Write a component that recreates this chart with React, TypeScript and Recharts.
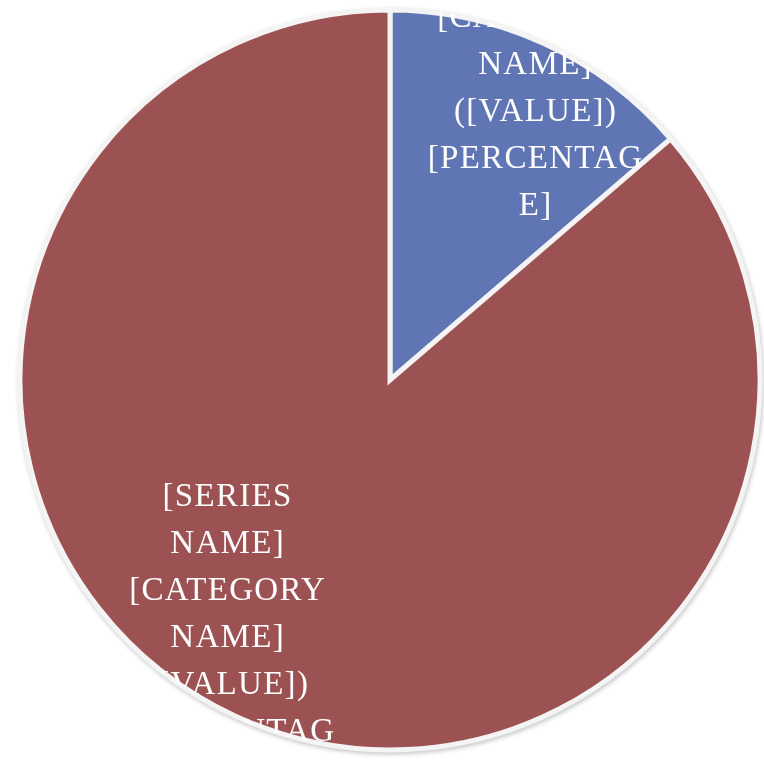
import React from "react";
import { PieChart, Pie, Cell } from "recharts";

const categories = ["1st Qtr", "2nd Qtr"];
const values = [13.7, 86.3];
const colors = ["#6076B4", "#9C5252"];
const labelLines = ["[SERIES", "NAME]", "[CATEGORY", "NAME]", "([VALUE])", "[PERCENTAG", "E]"];

const data = categories.map((name, i) => ({ name, value: values[i] }));

const RAD = Math.PI / 180;
const labelRadial = [0.943, 0.82];
const labelAngleShift = [0, -7.7];
const LINE_H = 47;

const renderLabel = (props: any) => {
  const { cx, cy, midAngle, outerRadius, index } = props;
  const r = outerRadius * labelRadial[index];
  const a = (midAngle + labelAngleShift[index]) * RAD;
  const x = cx + r * Math.cos(-a);
  const y = cy + r * Math.sin(-a);
  const clipId = `pie-clip-${index}`;
  const n = labelLines.length;
  return (
    <g>
      <defs>
        <clipPath id={clipId}>
          <circle cx={cx} cy={cy} r={outerRadius + 1} />
        </clipPath>
      </defs>
      <g clipPath={`url(#${clipId})`}>
        <text
          x={x}
          y={y}
          fill="#ffffff"
          textAnchor="middle"
          fontFamily="'Liberation Serif', 'DejaVu Serif', serif"
          fontSize={33}
          letterSpacing={1.3}
        >
          {labelLines.map((line, i) => (
            <tspan key={i} x={x} y={y + (i - (n - 1) / 2) * LINE_H} dominantBaseline="central">
              {line}
            </tspan>
          ))}
        </text>
      </g>
    </g>
  );
};

export default function App() {
  return (
    <div
      style={{
        position: "absolute",
        left: 0,
        top: 0,
        width: 764,
        height: 761,
        background: "#ffffff",
      }}
    >
      <div style={{ filter: "drop-shadow(1px 2px 2px rgba(0,0,0,0.22))" }}>
        <PieChart width={764} height={761} margin={{ top: 0, right: 0, bottom: 0, left: 0 }}>
          <Pie
            data={data}
            dataKey="value"
            nameKey="name"
            cx={390}
            cy={380}
            outerRadius={370}
            startAngle={90}
            endAngle={-270}
            stroke="#f4f4f4"
            strokeWidth={5}
            label={renderLabel}
            labelLine={false}
            isAnimationActive={false}
          >
            {data.map((d, i) => (
              <Cell key={d.name} fill={colors[i]} />
            ))}
          </Pie>
        </PieChart>
      </div>
    </div>
  );
}
